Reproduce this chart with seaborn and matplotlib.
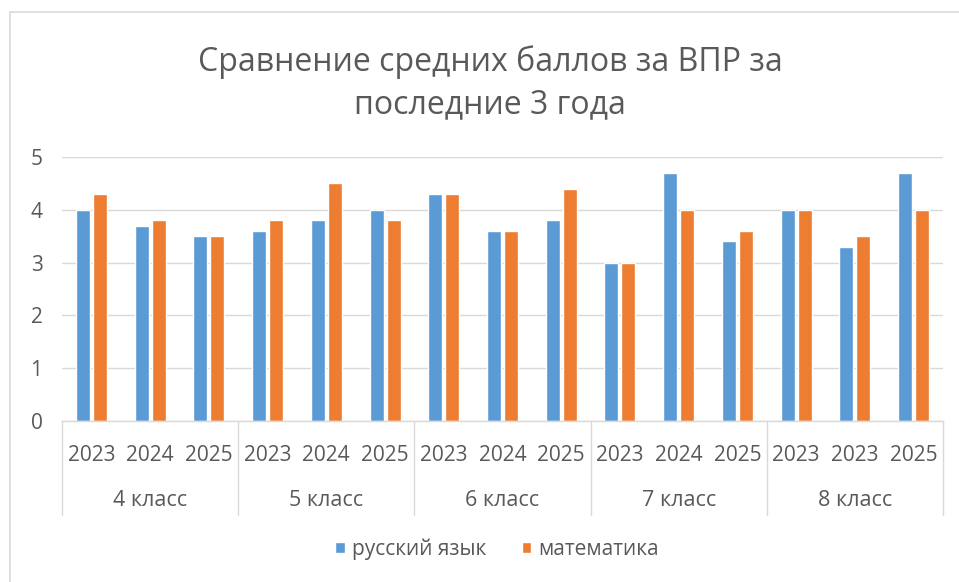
import matplotlib
matplotlib.use("Agg")
import matplotlib.pyplot as plt
import matplotlib.transforms as mtransforms
from matplotlib.patches import Rectangle
import seaborn as sns
import pandas as pd

# ---- data ----
grades = ["4 класс", "5 класс", "6 класс", "7 класс", "8 класс"]
year_labels = ["2023", "2024", "2025",
               "2023", "2024", "2025",
               "2023", "2024", "2025",
               "2023", "2024", "2025",
               "2023", "2023", "2025"]
russian = [4.0, 3.7, 3.5, 3.6, 3.8, 4.0, 4.3, 3.6, 3.8, 3.0, 4.7, 3.4, 4.0, 3.3, 4.7]
math_ = [4.3, 3.8, 3.5, 3.8, 4.5, 3.8, 4.3, 3.6, 4.4, 3.0, 4.0, 3.6, 4.0, 3.5, 4.0]
series_names = ["русский язык", "математика"]
title = "Сравнение средних баллов за ВПР за\nпоследние 3 года"

n = len(year_labels)
df = pd.DataFrame({
    "pos": list(range(n)) * 2,
    "score": russian + math_,
    "subject": [series_names[0]] * n + [series_names[1]] * n,
})

sns.set_theme(style="white")
plt.rcParams["font.family"] = ["Open Sans", "DejaVu Sans"]
TXT = "#595959"
GRID = "#D9D9D9"

fig = plt.figure(figsize=(9.59, 5.82), dpi=100)
W, H = 959, 582
L, R, T, B = 62, 943, 157, 421
ax = fig.add_axes([L / W, 1 - B / H, (R - L) / W, (B - T) / H])

sns.barplot(data=df, x="pos", y="score", hue="subject", order=list(range(n)),
            hue_order=series_names, palette=["#5B9BD5", "#ED7D31"],
            width=0.58, gap=0.18, ax=ax, legend=True, saturation=1)

ax.set_xlim(-0.5, n - 0.5)
ax.set_ylim(0, 5)
ax.set_yticks([0, 1, 2, 3, 4, 5])
ax.set_yticklabels(["0", "1", "2", "3", "4", "5"])
ax.yaxis.grid(True, color=GRID, linewidth=1)
ax.set_axisbelow(True)
for s in ["top", "right", "left"]:
    ax.spines[s].set_visible(False)
ax.spines["bottom"].set_color(GRID)
ax.spines["bottom"].set_linewidth(1)
ax.set_xlabel("")
ax.set_ylabel("")
ax.set_xticks(range(n))
ax.set_xticklabels(year_labels)
ax.tick_params(axis="x", length=0, pad=17, labelsize=15, labelcolor=TXT)
ax.tick_params(axis="y", length=0, pad=14, labelsize=15, labelcolor=TXT)

# group separators and labels
trans = mtransforms.blended_transform_factory(ax.transData, fig.transFigure)
y_top = 1 - B / H
y_bot = 1 - 515 / H
for k in range(len(grades) + 1):
    xb = -0.5 + 3 * k
    ax.plot([xb, xb], [y_top, y_bot], transform=trans, color=GRID,
            linewidth=1, clip_on=False)
for k, g in enumerate(grades):
    ax.text(3 * k + 1, 1 - 501 / H, g, transform=trans, ha="center",
            va="center", fontsize=15.5, color=TXT)

# legend
leg = ax.legend(loc="center", bbox_to_anchor=(497 / W, 1 - 549 / H),
                bbox_transform=fig.transFigure, ncol=2, frameon=False,
                fontsize=15, handlelength=0.45, handleheight=0.45,
                handletextpad=0.35, columnspacing=1.7)
for t in leg.get_texts():
    t.set_color(TXT)

fig.text(490 / W, 1 - 83 / H, title, ha="center", va="center",
         fontsize=23, color=TXT, linespacing=1.38)

# chart border
fig.patches.append(Rectangle((10 / W, -0.05), 1.2, 1 - 12 / H + 0.05,
                             transform=fig.transFigure, fill=False,
                             edgecolor=GRID, linewidth=1.2))

fig.savefig("out.png", dpi=100)
